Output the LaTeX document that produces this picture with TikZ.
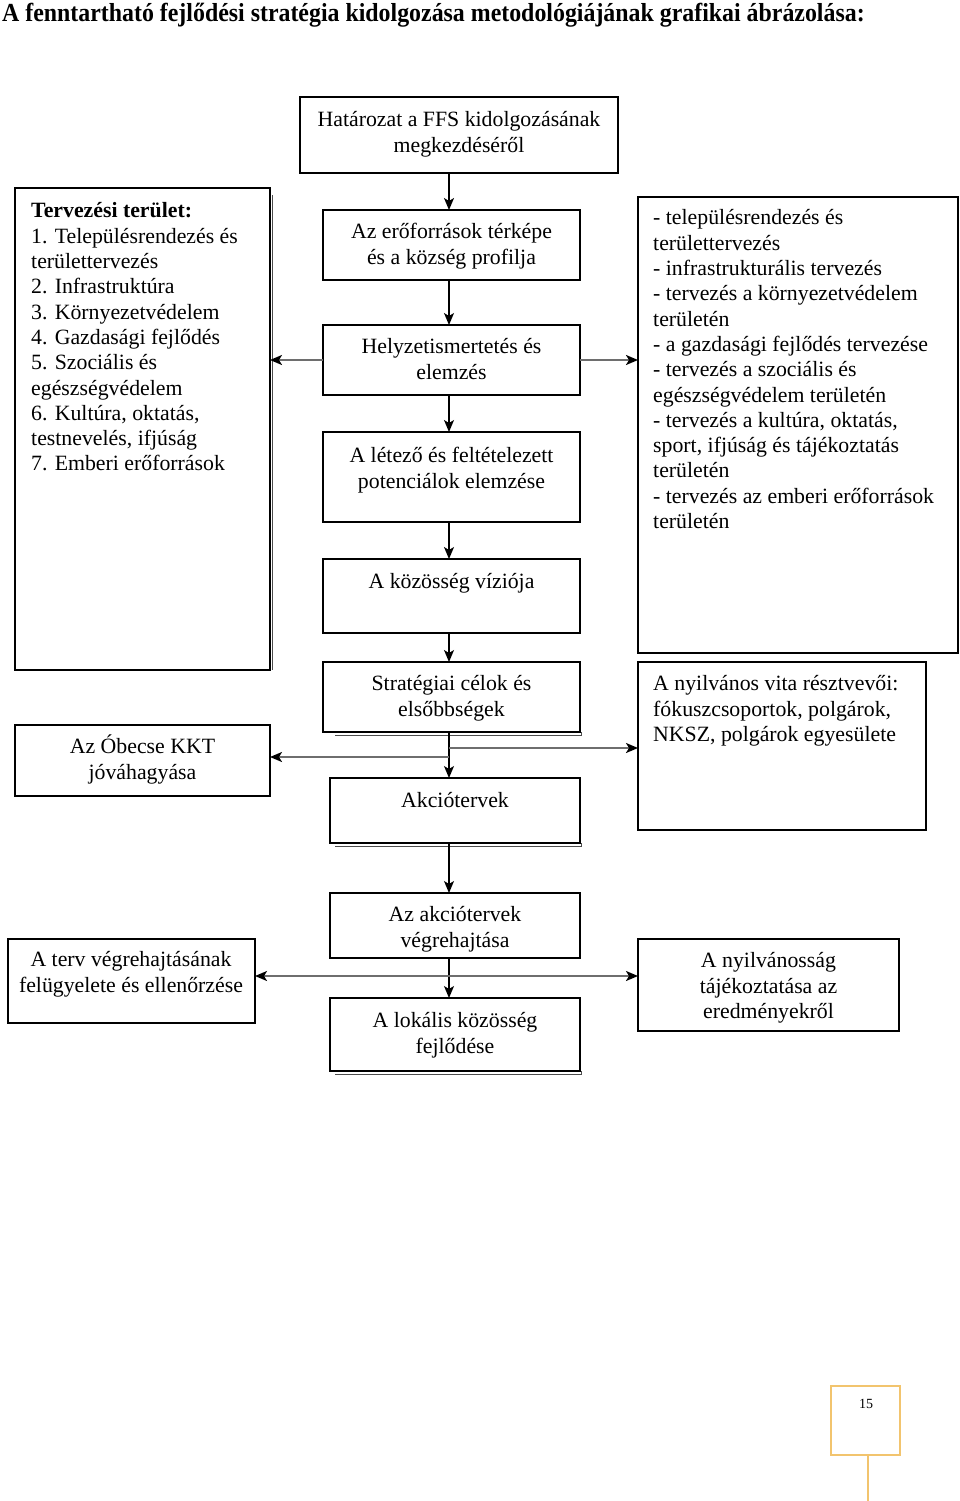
\documentclass[tikz,border=0pt]{standalone}
\usepackage{fontspec}
\setmainfont{Liberation Serif}
\usetikzlibrary{arrows.meta,calc}
\definecolor{pgorange}{RGB}{242,196,110}
\definecolor{arrgray}{RGB}{110,110,110}
\newcommand{\bodyfont}{\fontsize{21.8}{25.4}\selectfont}
\newcommand{\listfont}{\fontsize{21.8}{25.3}\selectfont}
\newcommand{\titlefont}{\fontsize{26}{30}\selectfont\bfseries}
\begin{document}
\begin{tikzpicture}[x=1pt,y=-1pt,
  box/.style={draw=black,line width=1.6pt,anchor=north west,inner sep=0pt,outer sep=0pt},
  txt/.style={font=\bodyfont,inner sep=0pt,align=center,anchor=north},
  ltxt/.style={font=\listfont,inner sep=0pt,align=left,anchor=north west},
  arr/.style={-{Stealth[length=12pt,width=10pt,inset=3pt]},line width=1.4pt,draw=black},
  harr/.style={-{Stealth[length=12pt,width=10pt,inset=3pt,color=black]},line width=1.9pt,draw=arrgray},
  shadowline/.style={line width=1pt,draw=black!70}
]
\useasboundingbox (0,0) rectangle (960,1501);

% title
\node[anchor=base west,inner sep=0pt,font=\titlefont,xscale=0.918] (title) at (2,22) {A fenntartható fejlődési stratégia kidolgozása metodológiájának grafikai ábrázolása:};

% boxes
\node[box,minimum width=318pt,minimum height=76pt] (hat) at (300,97) {};
\node[box,minimum width=255pt,minimum height=482pt] (terv) at (15,188) {};
\node[box,minimum width=320pt,minimum height=456pt] (tev) at (638,197) {};
\node[box,minimum width=257pt,minimum height=70pt] (erof) at (323,210) {};
\node[box,minimum width=257pt,minimum height=70pt] (helyz) at (323,325) {};
\node[box,minimum width=257pt,minimum height=90pt] (letez) at (323,432) {};
\node[box,minimum width=257pt,minimum height=74pt] (vizio) at (323,559) {};
\node[box,minimum width=257pt,minimum height=70pt] (strat) at (323,662) {};
\node[box,minimum width=250pt,minimum height=65pt] (akcio) at (330,778) {};
\node[box,minimum width=255pt,minimum height=71pt] (obecse) at (15,725) {};
\node[box,minimum width=288pt,minimum height=168pt] (vita) at (638,662) {};
\node[box,minimum width=250pt,minimum height=65pt] (vegre) at (330,893) {};
\node[box,minimum width=250pt,minimum height=73pt] (lokal) at (330,998) {};
\node[box,minimum width=247pt,minimum height=84pt] (terv2) at (8,939) {};
\node[box,minimum width=261pt,minimum height=92pt] (nyilv) at (638,939) {};
\node[box,draw=pgorange,minimum width=69pt,minimum height=69pt] (page) at (831,1386) {};

% shadow lines
\draw[shadowline] (335,735.5) -- (581,735.5) -- (581,732);
\draw[shadowline] (335,846.5) -- (581,846.5) -- (581,843);
\draw[shadowline] (335,1074) -- (581,1074) -- (581,1071);
\draw[shadowline] (272,195) -- (272,670);

% texts
\node[txt] (thatt) at (459,109) {\strut Határozat a FFS kidolgozásának\\megkezdéséről};
\node[ltxt] (tterv) at (31,200) {\strut{\bfseries Tervezési terület:}\\1. Településrendezés és\\területtervezés\\2. Infrastruktúra\\3. Környezetvédelem\\4. Gazdasági fejlődés\\5. Szociális és\\egészségvédelem\\6. Kultúra, oktatás,\\testnevelés, ifjúság\\7. Emberi erőforrások};
\node[ltxt] (ttev) at (653,207) {\strut - településrendezés és\\területtervezés\\- infrastrukturális tervezés\\- tervezés a környezetvédelem\\területén\\- a gazdasági fejlődés tervezése\\- tervezés a szociális és\\egészségvédelem területén\\- tervezés a kultúra, oktatás,\\sport, ifjúság és tájékoztatás\\területén\\- tervezés az emberi erőforrások\\területén};
\node[txt] (terof) at (451.5,221) {\strut Az erőforrások térképe\\és a község profilja};
\node[txt] (thelyz) at (451.5,336) {\strut Helyzetismertetés és\\elemzés};
\node[txt] (tletez) at (451.5,445) {\strut A létező és feltételezett\\potenciálok elemzése};
\node[txt] (tvizio) at (451.5,571) {\strut A közösség víziója};
\node[txt] (tstrat) at (451.5,673) {\strut Stratégiai célok és\\elsőbbségek};
\node[txt] (takcio) at (455,790) {\strut Akciótervek};
\node[txt] (tobecse) at (142.5,735) {\strut Az Óbecse KKT\\jóváhagyása};
\node[ltxt] (tvita) at (653,673) {\strut A nyilvános vita résztvevői:\\fókuszcsoportok, polgárok,\\NKSZ, polgárok egyesülete};
\node[txt] (tvegre) at (455,904) {\strut Az akciótervek\\végrehajtása};
\node[txt] (tlokal) at (455,1010) {\strut A lokális közösség\\fejlődése};
\node[txt] (tterv2) at (131,949) {\strut A terv végrehajtásának\\felügyelete és ellenőrzése};
\node[txt] (tnyilv) at (768.5,950) {\strut A nyilvánosság\\tájékoztatása az\\eredményekről};
\node[inner sep=0pt,font=\fontsize{14}{16}\selectfont] (tpage) at (866,1404) {15};

% connectors
\coordinate (ax) at (449,0);
\draw[arr] (hat.south -| ax) -- (erof.north -| ax);
\draw[arr] (erof.south -| ax) -- (helyz.north -| ax);
\draw[arr] (helyz.south -| ax) -- (letez.north -| ax);
\draw[arr] (letez.south -| ax) -- (vizio.north -| ax);
\draw[arr] (vizio.south -| ax) -- (strat.north -| ax);
\draw[arr] (strat.south -| ax) -- (akcio.north -| ax);
\draw[arr] (akcio.south -| ax) -- (vegre.north -| ax);
\draw[arr] (vegre.south -| ax) -- (lokal.north -| ax);
\draw[harr] (helyz.west) -- (terv.east |- helyz.west);
\draw[harr] (helyz.east) -- (tev.west |- helyz.east);
\coordinate (bl) at (449,757);
\coordinate (br) at (449,748);
\draw[harr] (bl) -- (obecse.east |- bl);
\draw[harr] (br) -- (vita.west |- br);
\coordinate (hb) at (449,976);
\draw[harr] (hb) -- (terv2.east |- hb);
\draw[harr] (hb) -- (nyilv.west |- hb);
\coordinate (pgend) at (868,1501);
\draw[draw=pgorange,line width=1.5pt] (page.south -| pgend) -- (pgend);
\end{tikzpicture}
\end{document}
